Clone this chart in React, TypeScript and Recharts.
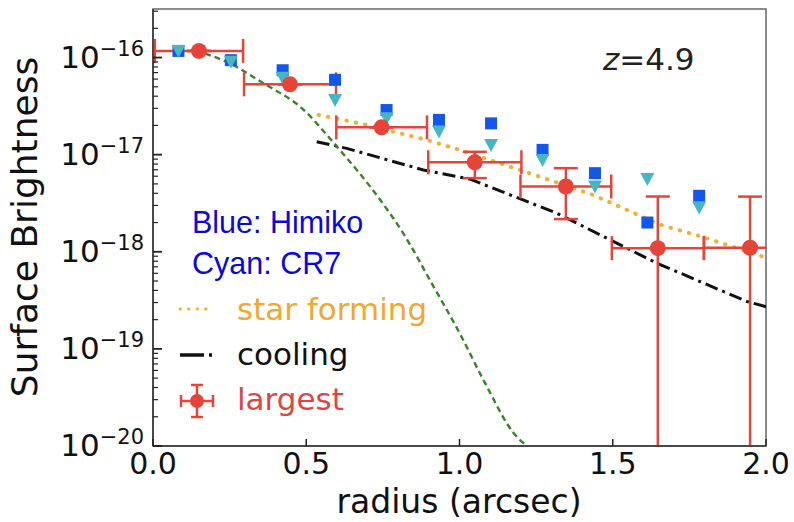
import {
  ComposedChart,
  Scatter,
  Line,
  ErrorBar,
  XAxis,
  YAxis,
  ReferenceArea
} from "recharts";

// radius (arcsec) and surface brightness
const himikoR = [0.083, 0.254, 0.423, 0.594, 0.762, 0.933, 1.103, 1.271, 1.442, 1.613, 1.782];
const himikoSB = [1.17e-16, 9.4e-17, 7.4e-17, 5.9e-17, 2.88e-17, 2.28e-17, 2.1e-17, 1.12e-17, 6.45e-18, 2.0e-18, 3.77e-18];

const cr7R = [0.083, 0.254, 0.423, 0.594, 0.762, 0.933, 1.103, 1.271, 1.442, 1.613, 1.782];
const cr7SB = [1.17e-16, 9.06e-17, 6.2e-17, 3.66e-17, 2.37e-17, 1.73e-17, 1.26e-17, 8.8e-18, 4.7e-18, 5.6e-18, 2.85e-18];

const largestR = [0.15, 0.447, 0.746, 1.05, 1.347, 1.647, 1.948];
const largestSB = [1.17e-16, 5.3e-17, 1.91e-17, 8.35e-18, 4.7e-18, 1.09e-18, 1.1e-18];
const largestRErr = [0.144, 0.15, 0.148, 0.152, 0.148, 0.15, 0.15];
const largestSBLow = [1.17e-16, 5.3e-17, 1.91e-17, 5.73e-18, 2.17e-18, 1e-21, 1e-21];
const largestSBHigh = [1.17e-16, 5.3e-17, 1.91e-17, 1.07e-17, 7.26e-18, 3.71e-18, 3.7e-18];

const starR = [0.54, 0.675, 0.893, 1.0, 1.197, 1.436, 1.655, 1.806, 2.0];
const starSB = [2.57e-17, 2.1e-17, 1.42e-17, 1.12e-17, 6.96e-18, 3.85e-18, 1.9e-18, 1.38e-18, 8.7e-19];

const coolR = [0.534, 0.632, 0.882, 1.034, 1.317, 1.643, 1.937, 2.0];
const coolSB = [1.36e-17, 1.16e-17, 6.96e-18, 5.6e-18, 2.5e-18, 7.66e-19, 3.08e-19, 2.72e-19];

const dashR = [0.17, 0.251, 0.36, 0.48, 0.6, 0.741, 0.816, 0.909, 1.0, 1.083, 1.175, 1.219];
const dashSB = [1.1e-16, 8.7e-17, 5.43e-17, 3.12e-17, 1.21e-17, 3.43e-18, 1.56e-18, 4.76e-19, 1.46e-19, 4.47e-20, 1.38e-20, 1e-20];

const xTicks = [0, 0.5, 1.0, 1.5, 2.0];
const yMajor = [1e-20, 1e-19, 1e-18, 1e-17, 1e-16];
const yMinorMult = [2, 3, 4, 5, 6, 7, 8, 9];
const yTop = 3.162e-16;

const yTicks = [
  ...yMajor,
  ...yMajor.flatMap((m) => yMinorMult.map((k) => k * m)).filter((v) => v < yTop)
].sort((a, b) => a - b);

const pts = (r: number[], sb: number[]) => r.map((x, i) => ({ r: x, sb: sb[i] }));

const himikoData = pts(himikoR, himikoSB);
const cr7Data = pts(cr7R, cr7SB);
const starData = pts(starR, starSB);
const coolData = pts(coolR, coolSB);
const dashData = pts(dashR, dashSB);
const largestData = largestR.map((r, i) => ({
  r,
  sb: largestSB[i],
  rErr: largestRErr[i],
  sbErr: [largestSB[i] - largestSBLow[i], largestSBHigh[i] - largestSB[i]]
}));

const FONT = "'DejaVu Sans', sans-serif";
const SANS = "'Liberation Sans', Arial, sans-serif";
const RED = "#e5443b";

const YTick = (props: any) => {
  const { x, y, payload } = props;
  const v = payload.value;
  const e = Math.round(Math.log10(v));
  const major = Math.abs(v - Math.pow(10, e)) / v < 1e-6;
  return (
    <g>
      <line x1={x} x2={x + (major ? 9 : 5)} y1={y} y2={y} stroke="#222" strokeWidth={major ? 1.8 : 1.2} />
      {major && (
        <text x={x - 9} y={y + 10} textAnchor="end" fontFamily={FONT} fill="#111">
          <tspan fontSize={31}>10</tspan>
          <tspan fontSize={21} dy={-12}>{"\u2212" + Math.abs(e)}</tspan>
        </text>
      )}
    </g>
  );
};

const XTick = (props: any) => {
  const { x, y, payload } = props;
  return (
    <g>
      <line x1={x} x2={x} y1={y} y2={y - 7} stroke="#222" strokeWidth={1.5} />
      <text x={x} y={y + 28} textAnchor="middle" fontFamily={FONT} fontSize={30} fill="#111">
        {payload.value.toFixed(1)}
      </text>
    </g>
  );
};

const Square = (p: any) => (
  <rect x={p.cx - 6} y={p.cy - 6} width={12} height={12} fill="#1456ea" />
);

const Tri = (p: any) => (
  <polygon
    points={`${p.cx - 7},${p.cy - 6} ${p.cx + 7},${p.cy - 6} ${p.cx},${p.cy + 7}`}
    fill="#46b6c2"
  />
);

const Dot = (p: any) => <circle cx={p.cx} cy={p.cy} r={8} fill={RED} />;

export default function App() {
  return (
    <div style={{ position: "absolute", left: 0, top: 0, width: 794, height: 522, background: "#fff" }}>
      <style>{`.recharts-errorBars, .recharts-errorBar { clip-path: url(#plotclip); }`}</style>
      <ComposedChart width={794} height={522} margin={{ top: 9, right: 28, bottom: 0, left: 0 }}>
        <XAxis
          type="number"
          dataKey="r"
          domain={[0, 2]}
          ticks={xTicks}
          allowDataOverflow
          height={76}
          tickSize={0}
          tickMargin={0}
          tickLine={false}
          axisLine={{ stroke: "#333", strokeWidth: 1.5 }}
          tick={<XTick />}
          label={{
            content: () => (
              <text x={459} y={513} textAnchor="middle" fontFamily={FONT} fontSize={33} fill="#111">
                radius (arcsec)
              </text>
            )
          }}
        />
        <YAxis
          type="number"
          dataKey="sb"
          scale="log"
          domain={[1e-20, yTop]}
          ticks={yTicks}
          allowDataOverflow
          width={153}
          tickSize={0}
          tickMargin={0}
          tickLine={false}
          interval={0}
          axisLine={{ stroke: "#333", strokeWidth: 1.5 }}
          tick={<YTick />}
          label={{
            content: () => (
              <text
                x={37}
                y={227}
                transform="rotate(-90 37 227)"
                textAnchor="middle"
                fontFamily={FONT}
                fontSize={36}
                fill="#111"
              >
                Surface Brightness
              </text>
            )
          }}
        />
        <ReferenceArea x1={0} x2={2} y1={1e-20} y2={yTop} fill="none" stroke="#666" strokeWidth={1.5} />
        <Scatter data={himikoData} shape={<Square />} isAnimationActive={false} />
        <Scatter data={cr7Data} shape={<Tri />} isAnimationActive={false} />
        <Line
          data={starData}
          dataKey="sb"
          type="linear"
          stroke="#f0b035"
          strokeWidth={4}
          strokeDasharray="0.5 9"
          strokeLinecap="round"
          dot={false}
          isAnimationActive={false}
        />
        <Line
          data={coolData}
          dataKey="sb"
          type="linear"
          stroke="#111"
          strokeWidth={3}
          strokeDasharray="13 5 3 5"
          dot={false}
          isAnimationActive={false}
        />
        <Line
          data={dashData}
          dataKey="sb"
          type="monotone"
          stroke="#3a822a"
          strokeWidth={2.4}
          strokeDasharray="6 4"
          dot={false}
          isAnimationActive={false}
        />
        <Scatter data={largestData} shape={<Dot />} isAnimationActive={false}>
          <ErrorBar dataKey="rErr" direction="x" stroke={RED} strokeWidth={2.5} width={12} />
          <ErrorBar dataKey="sbErr" direction="y" stroke={RED} strokeWidth={2.5} width={12} />
        </Scatter>
      </ComposedChart>
      <svg
        width={794}
        height={522}
        style={{ position: "absolute", left: 0, top: 0, pointerEvents: "none" }}
      >
        <defs>
          <clipPath id="plotclip" clipPathUnits="userSpaceOnUse">
            <rect x={153} y={9} width={613} height={437} />
          </clipPath>
        </defs>
        <text x={603} y={70} fontFamily={FONT} fontSize={31} fill="#222">
          <tspan fontStyle="italic">z</tspan>=4.9
        </text>
        <text x={192} y={233} fontFamily={SANS} fontSize={30.5} fill="#0a0ad0">
          Blue: Himiko
        </text>
        <text x={192} y={274} fontFamily={SANS} fontSize={30.5} fill="#0a0ad0">
          Cyan: CR7
        </text>
        <line x1={180} x2={214} y1={309} y2={309} stroke="#f0b035" strokeWidth={3} strokeDasharray="0.5 8" strokeLinecap="round" />
        <text x={237} y={320} fontFamily={FONT} fontSize={31} fill="#f0a830">
          star forming
        </text>
        <line x1={180} x2={204} y1={355} y2={355} stroke="#111" strokeWidth={3.5} />
        <line x1={209} x2={212} y1={355} y2={355} stroke="#111" strokeWidth={3.5} />
        <text x={237} y={365} fontFamily={FONT} fontSize={31} fill="#111">
          cooling
        </text>
        <g stroke={RED} strokeWidth={2.5}>
          <line x1={181} x2={213} y1={401} y2={401} />
          <line x1={181} x2={181} y1={395} y2={407} />
          <line x1={213} x2={213} y1={395} y2={407} />
          <line x1={197} x2={197} y1={385} y2={417} />
          <line x1={191} x2={203} y1={385} y2={385} />
          <line x1={191} x2={203} y1={417} y2={417} />
        </g>
        <circle cx={197} cy={401} r={7} fill={RED} />
        <text x={237} y={410} fontFamily={FONT} fontSize={31} fill="#d84848">
          largest
        </text>
      </svg>
    </div>
  );
}
